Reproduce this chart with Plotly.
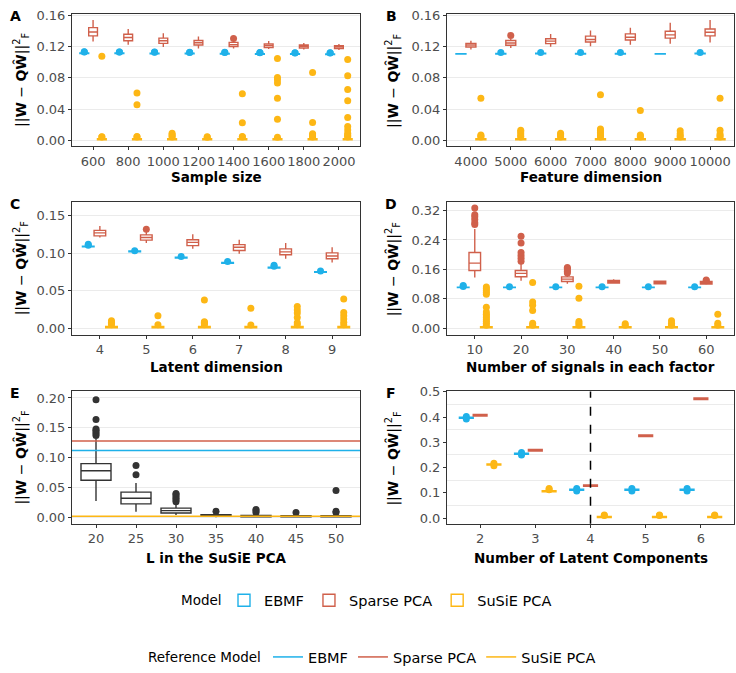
import numpy as np
import plotly.graph_objects as go

FONT = "DejaVu Sans"
C_EBMF = "#1FB1E9"
C_SPCA = "#D0604B"
C_SUSIE = "#FDB715"
C_DARK = "#333333"
MODELS = ["EBMF", "Sparse PCA", "SuSiE PCA"]
COLORS = {"EBMF": C_EBMF, "Sparse PCA": C_SPCA, "SuSiE PCA": C_SUSIE}
OFFSETS = {"EBMF": -0.25, "Sparse PCA": 0.0, "SuSiE PCA": 0.25}

# ---------------- Panel A: sample size ----------------
A_cats = ["600", "800", "1000", "1200", "1400", "1600", "1800", "2000"]
A_ebmf = dict(
    q1=[0.1110, 0.1110, 0.1107, 0.1105, 0.1104, 0.1101, 0.1100, 0.1098],
    med=[0.1114, 0.1114, 0.1111, 0.1109, 0.1108, 0.1105, 0.1104, 0.1102],
    q3=[0.1118, 0.1118, 0.1115, 0.1113, 0.1112, 0.1109, 0.1108, 0.1106],
    lo=[0.1106, 0.1106, 0.1103, 0.1101, 0.1100, 0.1097, 0.1096, 0.1094],
    hi=[0.1122, 0.1122, 0.1119, 0.1117, 0.1116, 0.1113, 0.1112, 0.1110],
    out=[[0.1128, 0.1132], [0.1128, 0.1131], [0.1125, 0.1129], [0.1123, 0.1126],
         [0.1122, 0.1126], [0.1119, 0.1122], [0.1118, 0.1121], [0.1116, 0.1120]])
A_spca = dict(
    q1=[0.1336, 0.1273, 0.1240, 0.1219, 0.1198, 0.1185, 0.1181, 0.1173],
    med=[0.1386, 0.1315, 0.1273, 0.1248, 0.1223, 0.1210, 0.1202, 0.1194],
    q3=[0.1441, 0.1357, 0.1307, 0.1277, 0.1252, 0.1231, 0.1219, 0.1210],
    lo=[0.1265, 0.1223, 0.1194, 0.1173, 0.1173, 0.1168, 0.1160, 0.1156],
    hi=[0.1537, 0.1424, 0.1370, 0.1328, 0.1273, 0.1269, 0.1244, 0.1231],
    out=[[], [], [], [], [0.1303], [], [], []])
A_susie = dict(
    q1=[0.0006] * 8, med=[0.0012] * 8, q3=[0.0022] * 8, lo=[0.0] * 8, hi=[0.0036] * 8,
    out=[[0.0042, 0.0048, 0.1076],
         [0.0042, 0.0050, 0.0457, 0.0607],
         [0.0042, 0.0055, 0.0072, 0.0090],
         [0.0040, 0.0045],
         [0.0042, 0.0050, 0.0226, 0.0595],
         [0.0040, 0.0270, 0.0540, 0.0733, 0.0775, 0.0805, 0.1045],
         [0.0042, 0.0055, 0.0070, 0.0085, 0.0230, 0.0867],
         [0.0042, 0.0055, 0.0070, 0.0090, 0.0134, 0.0176, 0.0293, 0.0507, 0.0650, 0.0825, 0.1035]])

# ---------------- Panel B: feature dimension ----------------
B_cats = ["4000", "5000", "6000", "7000", "8000", "9000", "10000"]
B_ebmf = dict(
    q1=[0.1104, 0.1104, 0.1105, 0.1104, 0.1104, 0.1104, 0.1105],
    med=[0.1106, 0.1108, 0.1109, 0.1108, 0.1108, 0.1106, 0.1109],
    q3=[0.1108, 0.1112, 0.1113, 0.1112, 0.1112, 0.1108, 0.1113],
    lo=[0.1102, 0.1100, 0.1101, 0.1100, 0.1100, 0.1102, 0.1101],
    hi=[0.1110, 0.1116, 0.1117, 0.1116, 0.1116, 0.1110, 0.1117],
    out=[[], [0.1122], [0.1123], [0.1122], [0.1122], [], [0.1123]])
B_spca = dict(
    q1=[0.1194, 0.1215, 0.1236, 0.1257, 0.1282, 0.1307, 0.1336],
    med=[0.1219, 0.1244, 0.1269, 0.1290, 0.1319, 0.1349, 0.1382],
    q3=[0.1240, 0.1277, 0.1298, 0.1332, 0.1361, 0.1395, 0.1424],
    lo=[0.1160, 0.1181, 0.1198, 0.1202, 0.1223, 0.1236, 0.1252],
    hi=[0.1273, 0.1300, 0.1361, 0.1403, 0.1441, 0.1504, 0.1537],
    out=[[], [0.1340], [], [], [], [], []])
B_susie = dict(
    q1=[0.0006] * 7, med=[0.0012] * 7, q3=[0.0022] * 7, lo=[0.0] * 7, hi=[0.0036] * 7,
    out=[[0.0042, 0.0055, 0.0069, 0.0540],
         [0.0042, 0.0060, 0.0085, 0.0110, 0.0128],
         [0.0042, 0.0060, 0.0075, 0.0090],
         [0.0042, 0.0060, 0.0080, 0.0100, 0.0125, 0.0144, 0.0582],
         [0.0042, 0.0055, 0.0069, 0.0381],
         [0.0042, 0.0060, 0.0085, 0.0124],
         [0.0042, 0.0060, 0.0080, 0.0128, 0.0540]])

# ---------------- Panel C: latent dimension ----------------
C_cats = ["4", "5", "6", "7", "8", "9"]
C_ebmf = dict(
    q1=[0.1083, 0.1018, 0.0935, 0.0865, 0.0801, 0.0744],
    med=[0.1088, 0.1023, 0.0940, 0.0870, 0.0806, 0.0749],
    q3=[0.1093, 0.1028, 0.0945, 0.0875, 0.0811, 0.0754],
    lo=[0.1080, 0.1015, 0.0932, 0.0862, 0.0798, 0.0741],
    hi=[0.1098, 0.1033, 0.0950, 0.0880, 0.0816, 0.0759],
    out=[[0.1106, 0.1119], [0.1032], [0.0954], [0.0889], [0.0826, 0.0837], [0.0763]])
C_spca = dict(
    q1=[0.1230, 0.1174, 0.1100, 0.1035, 0.0978, 0.0926],
    med=[0.1270, 0.1209, 0.1143, 0.1078, 0.1017, 0.0961],
    q3=[0.1304, 0.1243, 0.1178, 0.1113, 0.1057, 0.1004],
    lo=[0.1209, 0.1135, 0.1057, 0.0991, 0.0926, 0.0874],
    hi=[0.1361, 0.1287, 0.1252, 0.1178, 0.1135, 0.1078],
    out=[[], [0.1317], [], [], [], []])
C_susie = dict(
    q1=[0.0005] * 6, med=[0.0012] * 6, q3=[0.0022] * 6, lo=[0.0] * 6, hi=[0.0036] * 6,
    out=[[0.0045, 0.0060, 0.0078, 0.0097],
         [0.0045, 0.0165],
         [0.0045, 0.0060, 0.0075, 0.0085, 0.0374],
         [0.0040, 0.0265],
         [0.0045, 0.0070, 0.0143, 0.0200, 0.0243, 0.0287],
         [0.0045, 0.0078, 0.0122, 0.0165, 0.0209, 0.0387]])

# ---------------- Panel D: number of signals ----------------
D_cats = ["10", "20", "30", "40", "50", "60"]
D_ebmf = dict(
    q1=[0.1105] * 6, med=[0.1110] * 6, q3=[0.1115] * 6, lo=[0.1100] * 6, hi=[0.1120] * 6,
    out=[[0.1135, 0.1160], [0.1125], [0.1125], [0.1125], [0.1125], [0.1125]])
D_spca = dict(
    q1=[0.1570, 0.1400, 0.1271, 0.1227, 0.1209, 0.1200],
    med=[0.1770, 0.1490, 0.1333, 0.1260, 0.1245, 0.1236],
    q3=[0.2060, 0.1570, 0.1396, 0.1298, 0.1280, 0.1271],
    lo=[0.1380, 0.1290, 0.1210, 0.1209, 0.1190, 0.1190],
    hi=[0.2700, 0.1760, 0.1470, 0.1333, 0.1290, 0.1275],
    out=[[0.2820, 0.2870, 0.2960, 0.3030, 0.3090, 0.3270],
         [0.1820, 0.1900, 0.1980, 0.2060, 0.2320, 0.2500],
         [0.1500, 0.1540, 0.1580, 0.1620, 0.1650],
         [], [], [0.1290, 0.1310]])
D_susie = dict(
    q1=[0.0008] * 6, med=[0.0018] * 6, q3=[0.0035] * 6, lo=[0.0] * 6, hi=[0.0060] * 6,
    out=[[0.008, 0.013, 0.018, 0.023, 0.028, 0.033, 0.038, 0.044, 0.057,
          0.092, 0.097, 0.102, 0.107, 0.112],
         [0.008, 0.013, 0.048, 0.062, 0.071, 0.124],
         [0.008, 0.013, 0.018, 0.081, 0.114],
         [0.008, 0.012],
         [0.008, 0.013, 0.020],
         [0.008, 0.013, 0.038]])

# ---------------- Panel E: L in SuSiE PCA ----------------
E_cats = ["20", "25", "30", "35", "40", "45", "50"]
E_box = dict(
    q1=[0.0620, 0.0225, 0.0071, 0.0016, 0.0008, 0.0008, 0.0008],
    med=[0.0780, 0.0318, 0.0112, 0.0030, 0.0018, 0.0016, 0.0016],
    q3=[0.0900, 0.0422, 0.0154, 0.0044, 0.0030, 0.0028, 0.0028],
    lo=[0.0274, 0.0093, 0.0038, 0.0000, 0.0000, 0.0000, 0.0000],
    hi=[0.1315, 0.0575, 0.0225, 0.0065, 0.0050, 0.0045, 0.0045],
    out=[[0.137, 0.140, 0.143, 0.146, 0.148, 0.164, 0.197],
         [0.0712, 0.0866],
         [0.026, 0.029, 0.032, 0.035, 0.038, 0.040],
         [0.0099],
         [0.008, 0.011, 0.013],
         [0.008],
         [0.008, 0.0099, 0.045]])
E_ref_models = ["EBMF", "Sparse PCA", "SuSiE PCA"]
E_ref_values = [0.1118, 0.1277, 0.0016]

# ---------------- Panel F: number of latent components ----------------
F_cats = ["2", "3", "4", "5", "6"]
F_true_k = "4"
F_ebmf = dict(
    q1=[0.3955, 0.2530, 0.1100, 0.1100, 0.1100],
    med=[0.3975, 0.2550, 0.1120, 0.1120, 0.1120],
    q3=[0.3995, 0.2570, 0.1140, 0.1140, 0.1140],
    lo=[0.3945, 0.2520, 0.1090, 0.1090, 0.1090],
    hi=[0.4005, 0.2580, 0.1150, 0.1150, 0.1150],
    out=[[0.3925, 0.4025], [0.2500, 0.2600], [0.1070, 0.1170], [0.1070, 0.1170], [0.1070, 0.1170]])
F_spca = dict(
    q1=[0.4048, 0.2658, 0.1256, 0.3230, 0.4697],
    med=[0.4078, 0.2688, 0.1286, 0.3260, 0.4727],
    q3=[0.4108, 0.2718, 0.1316, 0.3290, 0.4757],
    lo=[0.4038, 0.2648, 0.1246, 0.3220, 0.4687],
    hi=[0.4118, 0.2728, 0.1326, 0.3300, 0.4767],
    out=[[], [], [], [], []])
F_susie = dict(
    q1=[0.2100, 0.1040, 0.0020, 0.0020, 0.0020],
    med=[0.2120, 0.1060, 0.0040, 0.0040, 0.0040],
    q3=[0.2140, 0.1080, 0.0060, 0.0060, 0.0060],
    lo=[0.2090, 0.1030, 0.0010, 0.0010, 0.0010],
    hi=[0.2150, 0.1090, 0.0070, 0.0070, 0.0070],
    out=[[0.2070, 0.2170], [0.1120, 0.1170], [0.0100, 0.0120], [0.0100, 0.0120], [0.0100, 0.0120]])

# y-axis ticks per panel
A_yticks = [0.00, 0.04, 0.08, 0.12, 0.16]
B_yticks = [0.00, 0.04, 0.08, 0.12, 0.16]
C_yticks = [0.00, 0.05, 0.10, 0.15]
D_yticks = [0.00, 0.08, 0.16, 0.24, 0.32]
E_yticks = [0.00, 0.05, 0.10, 0.15, 0.20]
F_yticks = [0.0, 0.1, 0.2, 0.3, 0.4, 0.5]
F_minor_grid = [0.05, 0.15, 0.25, 0.35, 0.45]

# The page body margin is removed (post_script), so the figure fills the window.
W, H = 736, 673


def px_x(p):
    return min(1.0, max(0.0, p / W))


def px_y(p):
    return min(1.0, max(0.0, 1 - p / H))


panels = [
    dict(letter="A", cats=A_cats, series={"EBMF": A_ebmf, "Sparse PCA": A_spca, "SuSiE PCA": A_susie},
         xtitle="Sample size", yticks=A_yticks, yfmt="{:.2f}", yrange=[-0.0075, 0.1617],
         xd=(72, 360), yd=(7, 142)),
    dict(letter="B", cats=B_cats, series={"EBMF": B_ebmf, "Sparse PCA": B_spca, "SuSiE PCA": B_susie},
         xtitle="Feature dimension", yticks=B_yticks, yfmt="{:.2f}", yrange=[-0.0075, 0.1617],
         xd=(447, 734), yd=(7, 142)),
    dict(letter="C", cats=C_cats, series={"EBMF": C_ebmf, "Sparse PCA": C_spca, "SuSiE PCA": C_susie},
         xtitle="Latent dimension", yticks=C_yticks, yfmt="{:.2f}", yrange=[-0.0086, 0.168],
         xd=(72, 360), yd=(199, 334)),
    dict(letter="D", cats=D_cats, series={"EBMF": D_ebmf, "Sparse PCA": D_spca, "SuSiE PCA": D_susie},
         xtitle="Number of signals in each factor", yticks=D_yticks, yfmt="{:.2f}", yrange=[-0.0176, 0.343],
         xd=(447, 734), yd=(199, 334)),
    dict(letter="E", cats=E_cats, series=None,
         xtitle="L in the SuSiE PCA", yticks=E_yticks, yfmt="{:.2f}", yrange=[-0.011, 0.211],
         xd=(72, 360), yd=(392, 527)),
    dict(letter="F", cats=F_cats, series={"EBMF": F_ebmf, "Sparse PCA": F_spca, "SuSiE PCA": F_susie},
         xtitle="Number of Latent Components", yticks=F_yticks, yfmt="{:.1f}", yrange=[-0.023, 0.502],
         xd=(447, 734), yd=(392, 527)),
]

fig = go.Figure()


def ax_ids(k):
    return ("x" if k == 1 else f"x{k}"), ("y" if k == 1 else f"y{k}")


def add_series(k, cats, s, color, offset, width, name, showlegend):
    xa, ya = ax_ids(k)
    xs = np.arange(len(cats)) + offset
    fig.add_trace(go.Box(
        x=xs, q1=s["q1"], median=s["med"], q3=s["q3"],
        lowerfence=s["lo"], upperfence=s["hi"],
        width=width, fillcolor="white", line=dict(color=color, width=1.4),
        whiskerwidth=0, boxpoints=False, name=name, legendgroup=name,
        showlegend=showlegend, legend="legend", xaxis=xa, yaxis=ya, hoverinfo="skip"))
    ox, oy = [], []
    for i, lst in enumerate(s["out"]):
        ox += [xs[i]] * len(lst)
        oy += list(lst)
    if ox:
        fig.add_trace(go.Scatter(
            x=ox, y=oy, mode="markers", marker=dict(color=color, size=7, line=dict(width=0)),
            showlegend=False, legendgroup=name, xaxis=xa, yaxis=ya, hoverinfo="skip"))


annotations = []
for k, p in enumerate(panels, start=1):
    n = len(p["cats"])
    if p["series"] is not None:
        for m in MODELS:
            add_series(k, p["cats"], p["series"][m], COLORS[m], OFFSETS[m], 0.25, m, k == 1)
    else:
        add_series(k, p["cats"], E_box, C_DARK, 0.0, 0.75, "L", False)

    xkey = "xaxis" if k == 1 else f"xaxis{k}"
    ykey = "yaxis" if k == 1 else f"yaxis{k}"
    xa, ya = ax_ids(k)
    x0, x1 = p["xd"]
    y0, y1 = p["yd"]
    common = dict(showline=True, mirror=True, linecolor=C_DARK, linewidth=1,
                  ticks="outside", ticklen=3, tickcolor=C_DARK, tickwidth=1,
                  tickfont=dict(family=FONT, size=13, color="#4D4D4D"), zeroline=False)
    fig.layout[xkey] = dict(domain=[px_x(x0), px_x(x1)], anchor=ya, range=[-0.6, n - 0.4],
                            tickmode="array", tickvals=list(range(n)), ticktext=p["cats"],
                            tickangle=0, showgrid=False, **common)
    ydict = dict(domain=[px_y(y1), px_y(y0)], anchor=xa, range=p["yrange"],
                 tickmode="array", tickvals=p["yticks"],
                 ticktext=[p["yfmt"].format(v) for v in p["yticks"]], **common)
    if p["letter"] == "F":
        ydict.update(showgrid=False,
                     minor=dict(tickmode="array", tickvals=F_minor_grid, showgrid=True,
                                gridcolor="#EBEBEB", gridwidth=1, ticks=""))
    else:
        ydict.update(showgrid=True, gridcolor="#EBEBEB", gridwidth=1)
    fig.layout[ykey] = ydict

    # axis title (x)
    xt_y = {7: 173, 199: 367, 392: 562}[y0]
    annotations.append(dict(text=f"<b>{p['xtitle']}</b>", x=px_x((x0 + x1) / 2), y=px_y(xt_y),
                            xref="paper", yref="paper", showarrow=False,
                            xanchor="center", yanchor="middle",
                            font=dict(family=FONT, size=13.5, color="black")))
    # y title
    ytx = 21 if x0 < 100 else 393
    annotations.append(dict(text="||<b>W</b> − <b>QŴ</b>||<sup>2</sup><sub>F</sub>",
                            x=px_x(ytx), y=px_y((y0 + y1) / 2), xref="paper", yref="paper",
                            showarrow=False, textangle=-90, xanchor="center", yanchor="middle",
                            font=dict(family=FONT, size=14, color="black")))
    # panel letter
    lx = 15 if x0 < 100 else 391
    annotations.append(dict(text=f"<b>{p['letter']}</b>", x=px_x(lx), y=px_y(y0 + 2),
                            xref="paper", yref="paper", showarrow=False,
                            xanchor="center", yanchor="middle",
                            font=dict(family=FONT, size=14, color="black")))

# reference lines in panel E (legend 2)
for m, v in zip(E_ref_models, E_ref_values):
    fig.add_shape(type="line", xref="x5 domain", x0=0, x1=1, yref="y5", y0=v, y1=v,
                  line=dict(color=COLORS[m], width=1.5), layer="above",
                  showlegend=True, legend="legend2", name=m)

# true number of components in panel F
k_idx = F_cats.index(F_true_k)
fig.add_shape(type="line", xref="x6", x0=k_idx, x1=k_idx, yref="y6 domain", y0=0, y1=1,
              line=dict(color="black", width=1.5, dash="dash"), layer="above")

TITLE_FONT = dict(family=FONT, size=13.5, color="black")
LEG_FONT = dict(family=FONT, size=14.5, color="black")
# legend titles (drawn as text to keep them vertically centred on the keys)
annotations.append(dict(text="Model", x=px_x(224), y=px_y(605), xref="paper", yref="paper",
                        showarrow=False, xanchor="right", yanchor="middle", font=TITLE_FONT))
annotations.append(dict(text="Reference Model", x=px_x(263), y=px_y(663), xref="paper", yref="paper",
                        showarrow=False, xanchor="right", yanchor="middle", font=TITLE_FONT))

fig.update_layout(
    width=W, height=H, margin=dict(l=0, r=0, t=0, b=0),
    paper_bgcolor="white", plot_bgcolor="white", boxmode="overlay",
    font=dict(family=FONT, size=13, color="black"),
    annotations=annotations,
    legend=dict(orientation="h", x=px_x(224), xanchor="left", y=px_y(605), yanchor="middle",
                font=LEG_FONT, bgcolor="rgba(0,0,0,0)"),
    legend2=dict(orientation="h", x=px_x(268), xanchor="left", y=px_y(663), yanchor="middle",
                 font=LEG_FONT, bgcolor="rgba(0,0,0,0)"),
)

fig.write_html("out.html",
               config={"displayModeBar": False},
               post_script="document.body.style.margin='0';document.body.style.overflow='hidden';")
